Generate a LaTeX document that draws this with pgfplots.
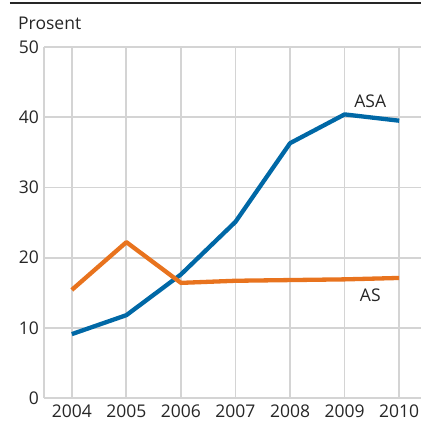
\documentclass[border=0pt]{standalone}
\usepackage{pgfplots}
\pgfplotsset{compat=1.18}
\usepackage{fontspec}
\setmainfont{Open Sans}
\definecolor{ssbblue}{RGB}{0,104,166}
\definecolor{ssborange}{RGB}{232,115,30}
\definecolor{gridgray}{RGB}{212,212,212}
\begin{document}
\fontsize{17.5bp}{20bp}\selectfont
\begin{tikzpicture}
\begin{axis}[
  name=ax,
  scale only axis,
  width=377bp, height=351bp,
  xmin=2003.49, xmax=2010.4,
  ymin=0, ymax=50,
  axis x line=bottom, axis y line=left,
  axis line style={gridgray, line width=1.8bp, -},
  xtick={2004,...,2010},
  ytick={0,10,...,50},
  x tick label style={/pgf/number format/1000 sep={}},
  /pgf/number format/assume math mode=true,
  tick style={draw=none},
  major tick length=0pt,
  grid=major,
  major grid style={gridgray, line width=1.8bp},
  tick label style={font=\fontsize{17.5bp}{20bp}\selectfont, text=black!85},
  yticklabel style={xshift=1bp},
  xticklabel style={yshift=-0.5bp},
  clip=false,
]
\addplot[ssbblue, line width=4.3bp, line join=round] coordinates {
 (2004,9.1) (2005,11.8) (2006,17.6) (2007,25.1) (2008,36.3) (2009,40.4) (2010,39.5)};
\addplot[ssborange, line width=4.3bp, line join=round] coordinates {
 (2004,15.4) (2005,22.2) (2006,16.4) (2007,16.7) (2008,16.8) (2009,16.9) (2010,17.1)};
\node[text=black!85] at (axis cs:2009.47,42.3) {ASA};
\node[text=black!85] at (axis cs:2009.47,14.7) {AS};
\end{axis}
\node[anchor=base west, text=black!85, inner sep=0pt] at ([xshift=-26bp,yshift=18bp]ax.north west) {Prosent};
\draw[black!85, line width=1.3bp] ([xshift=-34bp,yshift=44bp]ax.north west) -- ([xshift=377bp,yshift=44bp]ax.north west);
\pgfresetboundingbox
\path ([xshift=-44bp,yshift=-25bp]ax.south west) rectangle ([xshift=377bp,yshift=398bp]ax.south west);
\end{tikzpicture}
\end{document}
